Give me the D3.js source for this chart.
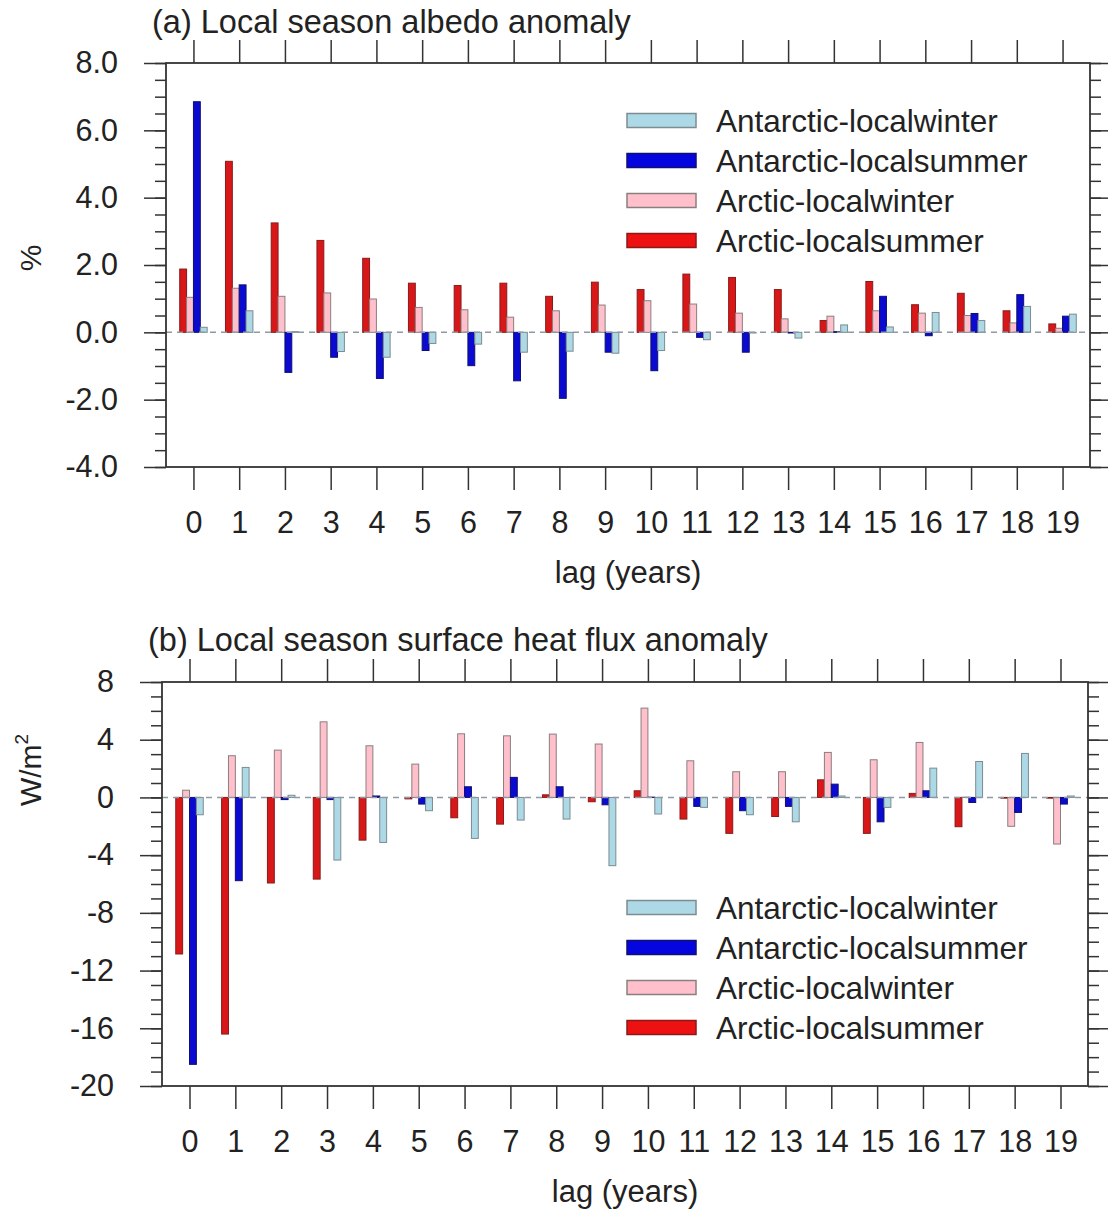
<!DOCTYPE html>
<html>
<head>
<meta charset="utf-8">
<script src="https://cdn.jsdelivr.net/npm/d3@7"></script>
<style>
  html, body { margin: 0; padding: 0; background: #fff; }
  svg text { font-family: "Liberation Sans", Arial, Helvetica, sans-serif; fill: #222; }
</style>
</head>
<body>
<svg id="chart" width="1108" height="1209"></svg>
<script>
// ---------------- data ----------------
const lags = [0, 1, 2, 3, 4, 5, 6, 7, 8, 9, 10, 11, 12, 13, 14, 15, 16, 17, 18, 19];
const seriesNames = ["Arctic-localsummer", "Arctic-localwinter", "Antarctic-localsummer", "Antarctic-localwinter"];
const legendOrder = ["Antarctic-localwinter", "Antarctic-localsummer", "Arctic-localwinter", "Arctic-localsummer"];

// (a) albedo anomaly (%)
const albedoArcticSummer     = [1.88, 5.08, 3.25, 2.73, 2.20, 1.46, 1.39, 1.46, 1.07, 1.49, 1.27, 1.73, 1.63, 1.27, 0.35, 1.51, 0.82, 1.16, 0.64, 0.25];
const albedoArcticWinter     = [1.04, 1.31, 1.07, 1.17, 0.99, 0.74, 0.67, 0.45, 0.64, 0.81, 0.94, 0.84, 0.57, 0.40, 0.48, 0.64, 0.57, 0.50, 0.28, 0.12];
const albedoAntarcticSummer  = [6.85, 1.41, -1.19, -0.74, -1.37, -0.54, -0.99, -1.44, -1.96, -0.59, -1.14, -0.15, -0.59, -0.02, 0.02, 1.07, -0.10, 0.56, 1.12, 0.48];
const albedoAntarcticWinter  = [0.15, 0.64, 0.02, -0.57, -0.74, -0.33, -0.35, -0.59, -0.56, -0.62, -0.54, -0.22, -0.02, -0.17, 0.22, 0.16, 0.59, 0.35, 0.77, 0.54];

// (b) surface heat flux anomaly (W/m2)
const fluxArcticSummer    = [-10.85, -16.4, -5.93, -5.66, -2.96, -0.10, -1.41, -1.85, 0.18, -0.30, 0.46, -1.50, -2.49, -1.32, 1.22, -2.49, 0.28, -2.03, -0.05, -0.05];
const fluxArcticWinter    = [0.50, 2.89, 3.28, 5.24, 3.58, 2.31, 4.41, 4.27, 4.39, 3.70, 6.19, 2.54, 1.78, 1.78, 3.12, 2.61, 3.81, 0.02, -2.00, -3.23];
const fluxAntarcticSummer = [-18.5, -5.77, -0.15, -0.15, 0.10, -0.46, 0.74, 1.39, 0.74, -0.51, 0.02, -0.62, -0.92, -0.62, 0.92, -1.69, 0.46, -0.35, -1.04, -0.46];
const fluxAntarcticWinter = [-1.20, 2.08, 0.15, -4.34, -3.12, -0.92, -2.84, -1.57, -1.50, -4.73, -1.15, -0.69, -1.20, -1.69, 0.10, -0.69, 2.03, 2.49, 3.05, 0.10];

const albedoTicks = [-4, -2, 0, 2, 4, 6, 8];
const fluxTicks = [-20, -16, -12, -8, -4, 0, 4, 8];

// ---------------- styles ----------------
const fills   = { "Arctic-localsummer": "#d81818", "Arctic-localwinter": "#ffc0cb", "Antarctic-localsummer": "#0a0ad0", "Antarctic-localwinter": "#add8e6" };
const strokes = { "Arctic-localsummer": "#8a1a1a", "Arctic-localwinter": "#8a7f80", "Antarctic-localsummer": "#101070", "Antarctic-localwinter": "#7c8c90" };
const legendFills = { "Arctic-localsummer": "#ee1111", "Arctic-localwinter": "#ffc0cb", "Antarctic-localsummer": "#0505e0", "Antarctic-localwinter": "#add8e6" };

const svg = d3.select("#chart");

function drawPanel(cfg) {
  const g = svg.append("g");
  const x = d3.scaleLinear().domain([-0.6, 19.6]).range([cfg.left, cfg.right]);
  const y = d3.scaleLinear().domain(cfg.yDomain).range([cfg.bottom, cfg.top]);

  const barW = 0.15;
  const series = cfg.series;
  // bars
  series.forEach((s, si) => {
    g.append("g").selectAll("rect").data(s.values).join("rect")
      .attr("x", (d, i) => x(lags[i] - 0.3 + si * barW))
      .attr("width", x(barW) - x(0))
      .attr("y", d => y(Math.max(0, d)))
      .attr("height", d => Math.abs(y(d) - y(0)))
      .attr("fill", fills[s.name])
      .attr("stroke", strokes[s.name])
      .attr("stroke-width", 1);
  });

  // zero dashed line
  g.append("line")
    .attr("x1", cfg.left).attr("x2", cfg.right)
    .attr("y1", y(0)).attr("y2", y(0))
    .attr("stroke", "#8f9aa4").attr("stroke-width", 1.5).attr("stroke-dasharray", "6,5");

  const axisStyle = sel => {
    sel.select(".domain").remove();
    sel.selectAll(".tick line").attr("stroke", "#333").attr("stroke-width", 1.5);
    sel.selectAll("text").style("font-size", cfg.tickFont + "px").attr("fill", "#222");
  };

  // minor ticks
  const minor = d3.range(cfg.yDomain[0], cfg.yDomain[1] + 1e-9, cfg.minorStep);
  g.append("g").attr("transform", `translate(${cfg.left},0)`)
    .call(d3.axisLeft(y).tickValues(minor).tickSize(11).tickFormat(""))
    .call(axisStyle);
  g.append("g").attr("transform", `translate(${cfg.right},0)`)
    .call(d3.axisRight(y).tickValues(minor).tickSize(11).tickFormat(""))
    .call(axisStyle);
  // major y
  g.append("g").attr("transform", `translate(${cfg.left},0)`)
    .call(d3.axisLeft(y).tickValues(cfg.yTicks).tickSize(22).tickPadding(26).tickFormat(cfg.fmt))
    .call(axisStyle);
  g.append("g").attr("transform", `translate(${cfg.right},0)`)
    .call(d3.axisRight(y).tickValues(cfg.yTicks).tickSize(22).tickFormat(""))
    .call(axisStyle);
  // x axes
  g.append("g").attr("transform", `translate(0,${cfg.bottom})`)
    .call(d3.axisBottom(x).tickValues(lags).tickSize(23).tickPadding(21).tickFormat(d => String(d)))
    .call(axisStyle);
  g.append("g").attr("transform", `translate(0,${cfg.top})`)
    .call(d3.axisTop(x).tickValues(lags).tickSize(23).tickFormat(""))
    .call(axisStyle);

  // frame
  g.append("rect")
    .attr("x", cfg.left).attr("y", cfg.top)
    .attr("width", cfg.right - cfg.left).attr("height", cfg.bottom - cfg.top)
    .attr("fill", "none").attr("stroke", "#333").attr("stroke-width", 1.8);

  // title
  g.append("text").attr("x", cfg.titleX).attr("y", cfg.titleY)
    .style("font-size", "32.5px").text(cfg.title);

  // x title
  g.append("text").attr("x", (cfg.left + cfg.right) / 2).attr("y", cfg.bottom + 116)
    .attr("text-anchor", "middle").style("font-size", "31px").text("lag (years)");

  // y title
  const yt = g.append("text")
    .attr("transform", `translate(${cfg.yTitleX},${cfg.yTitleY}) rotate(-90)`)
    .attr("text-anchor", "middle").style("font-size", "30px");
  yt.text(cfg.yTitle);
  if (cfg.yTitleSup) {
    yt.append("tspan").attr("dy", "-0.7em").style("font-size", "19px").text(cfg.yTitleSup);
  }

  // legend
  const lg = g.append("g");
  legendOrder.forEach((name, i) => {
    const cy = cfg.legendY + i * 40;
    lg.append("rect").attr("x", 627).attr("y", cy - 7).attr("width", 69).attr("height", 14)
      .attr("fill", legendFills[name]).attr("stroke", strokes[name]).attr("stroke-width", 1.5);
    lg.append("text").attr("x", 716).attr("y", cy).attr("dy", "0.36em")
      .style("font-size", "31.5px").text(name);
  });
}

drawPanel({
  left: 166, right: 1090, top: 63, bottom: 467,
  yDomain: [-4, 8], yTicks: albedoTicks, minorStep: 0.5,
  fmt: d => d.toFixed(1), tickFont: 30.5,
  series: [
    { name: seriesNames[0], values: albedoArcticSummer },
    { name: seriesNames[1], values: albedoArcticWinter },
    { name: seriesNames[2], values: albedoAntarcticSummer },
    { name: seriesNames[3], values: albedoAntarcticWinter }
  ],
  title: "(a) Local season albedo anomaly", titleX: 152, titleY: 33,
  yTitle: "%", yTitleX: 41, yTitleY: 258,
  legendY: 120.5
});

drawPanel({
  left: 162, right: 1088, top: 682, bottom: 1086,
  yDomain: [-20, 8], yTicks: fluxTicks, minorStep: 1,
  fmt: d => String(d), tickFont: 30.5,
  series: [
    { name: seriesNames[0], values: fluxArcticSummer },
    { name: seriesNames[1], values: fluxArcticWinter },
    { name: seriesNames[2], values: fluxAntarcticSummer },
    { name: seriesNames[3], values: fluxAntarcticWinter }
  ],
  title: "(b) Local season surface heat flux anomaly", titleX: 148, titleY: 651,
  yTitle: "W/m", yTitleSup: "2", yTitleX: 41, yTitleY: 770,
  legendY: 907.5
});
</script>
</body>
</html>
